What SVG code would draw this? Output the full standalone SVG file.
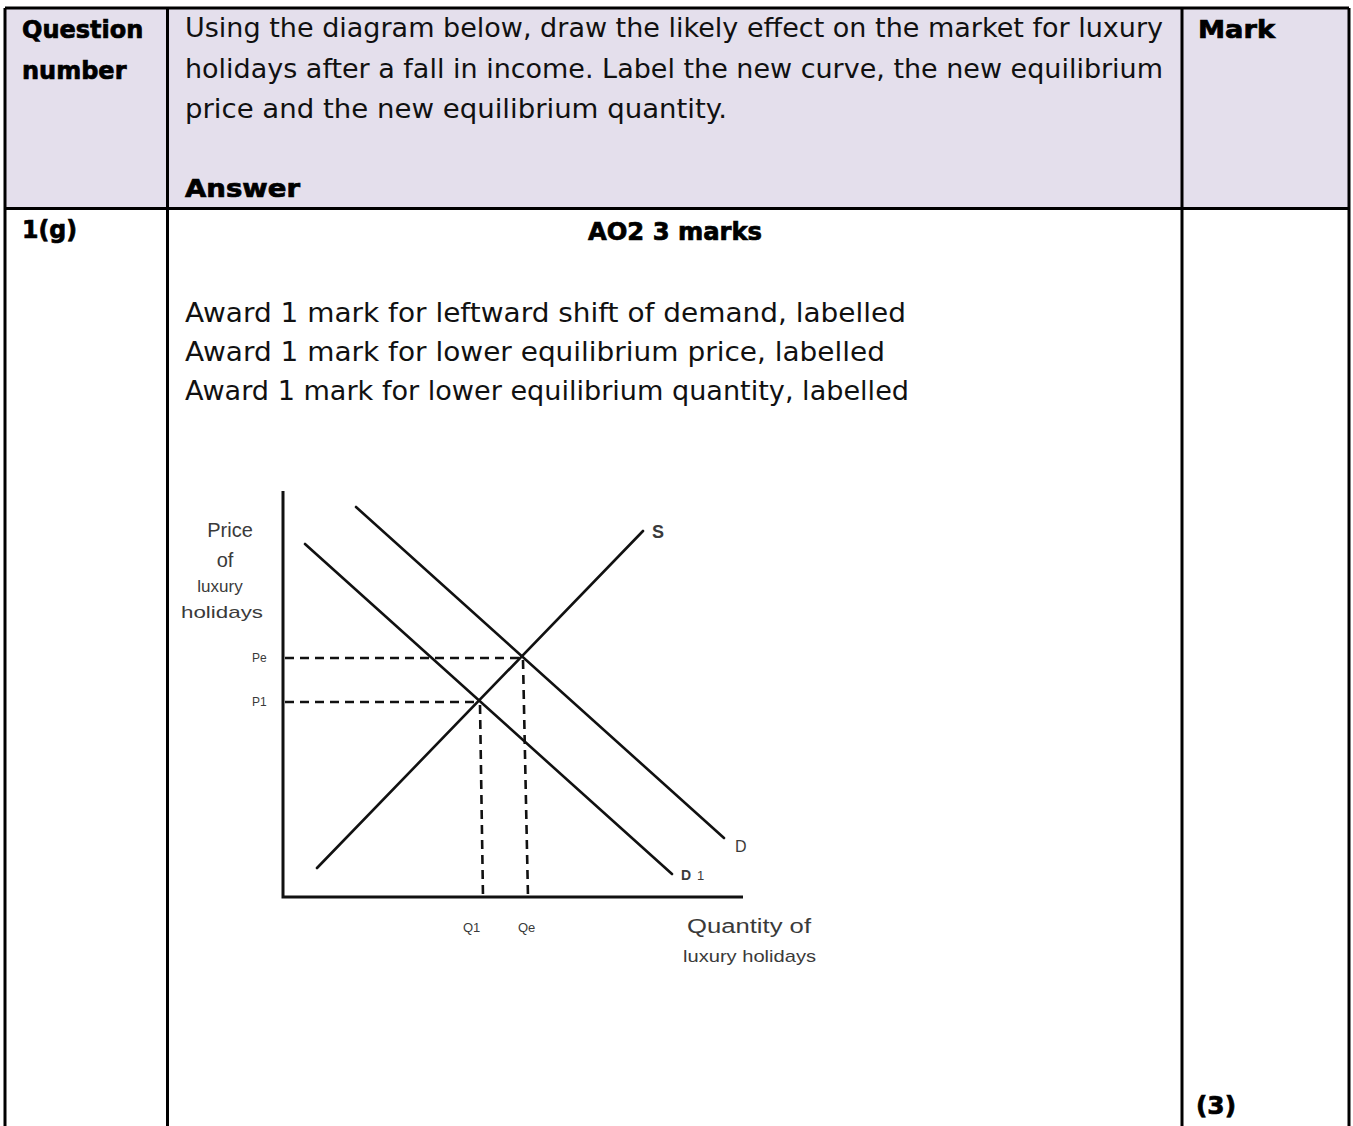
<svg xmlns="http://www.w3.org/2000/svg" width="1353" height="1126" viewBox="0 0 1353 1126">
<style>
.hd{font-family:"DejaVu Sans",sans-serif;font-weight:bold;font-size:24px;fill:#000;stroke:#000;stroke-width:0.7}
.tx{font-family:"DejaVu Sans",sans-serif;font-size:26px;fill:#111}
.bd{stroke:#000;stroke-width:3;fill:none}
.ln{stroke:#111;stroke-width:2.6;fill:none;stroke-linecap:round}
.ax{stroke:#111;stroke-width:3;fill:none}
.da{stroke:#111;stroke-width:2.6;fill:none;stroke-dasharray:9 6}
.gl{font-family:"Liberation Sans",Arial,sans-serif;fill:#3a3a3a}
</style>
<rect width="1353" height="1126" fill="#fff"/>
<g id="table">
<rect x="5" y="8" width="1344" height="200" fill="#e4dfec"/>
<path class="bd" d="M5 8H1349M5 208.5H1349M5 8V1126M167.5 8V1126M1182 8V1126M1349 8V1126"/>
</g>
<g id="header">
<text class="hd" x="22" y="38">Question</text>
<text class="hd" x="22" y="79">number</text>
<text class="tx" x="185" y="37" textLength="978" lengthAdjust="spacingAndGlyphs">Using the diagram below, draw the likely effect on the market for luxury</text>
<text class="tx" x="185" y="78" textLength="978" lengthAdjust="spacingAndGlyphs">holidays after a fall in income. Label the new curve, the new equilibrium</text>
<text class="tx" x="185" y="118" textLength="542" lengthAdjust="spacingAndGlyphs">price and the new equilibrium quantity.</text>
<text class="hd" x="185" y="197" textLength="115" lengthAdjust="spacingAndGlyphs">Answer</text>
<text class="hd" x="1198" y="38" textLength="77" lengthAdjust="spacingAndGlyphs">Mark</text>
</g>
<g id="row">
<text class="hd" x="22" y="238" textLength="55" lengthAdjust="spacingAndGlyphs">1(g)</text>
<text class="hd" x="588" y="240" textLength="174" lengthAdjust="spacingAndGlyphs">AO2 3 marks</text>
<text class="tx" x="185" y="322" textLength="721" lengthAdjust="spacingAndGlyphs">Award 1 mark for leftward shift of demand, labelled</text>
<text class="tx" x="185" y="361" textLength="700" lengthAdjust="spacingAndGlyphs">Award 1 mark for lower equilibrium price, labelled</text>
<text class="tx" x="185" y="400" textLength="724" lengthAdjust="spacingAndGlyphs">Award 1 mark for lower equilibrium quantity, labelled</text>
<text class="hd" x="1196" y="1114" textLength="40" lengthAdjust="spacingAndGlyphs">(3)</text>
</g>
<g id="chart">
<g id="connectors">
<path class="ax" d="M283 491V897H743"/>
<path class="ln" d="M317 868L643 531"/>
<path class="ln" d="M356 507L724 838"/>
<path class="ln" d="M305 544L672 874"/>
<path class="da" d="M285 658H520M285 702H479"/>
<path class="da" d="M480 705L483 897M523 660L528 897"/>
</g>
<g id="labels">
<text class="gl" x="230" y="537" font-size="20" text-anchor="middle">Price</text>
<text class="gl" x="225" y="567" font-size="20" text-anchor="middle">of</text>
<text class="gl" x="220" y="592" font-size="17" text-anchor="middle">luxury</text>
<text class="gl" x="222" y="618" font-size="17" text-anchor="middle" textLength="82" lengthAdjust="spacingAndGlyphs">holidays</text>
<text class="gl" x="252" y="662" font-size="12">Pe</text>
<text class="gl" x="252" y="706" font-size="12">P1</text>
<text class="gl" x="463" y="932" font-size="13">Q1</text>
<text class="gl" x="518" y="932" font-size="13">Qe</text>
<text class="gl" x="652" y="538" font-size="18" font-weight="bold" fill="#222">S</text>
<text class="gl" x="735" y="852" font-size="16">D</text>
<text class="gl" x="681" y="880" font-size="14" font-weight="bold" fill="#222">D</text>
<text class="gl" x="697" y="880" font-size="13">1</text>
<text class="gl" x="687" y="933" font-size="20" textLength="124" lengthAdjust="spacingAndGlyphs">Quantity  of</text>
<text class="gl" x="683" y="962" font-size="17" textLength="133" lengthAdjust="spacingAndGlyphs">luxury holidays</text>
</g>
</g>
</svg>
